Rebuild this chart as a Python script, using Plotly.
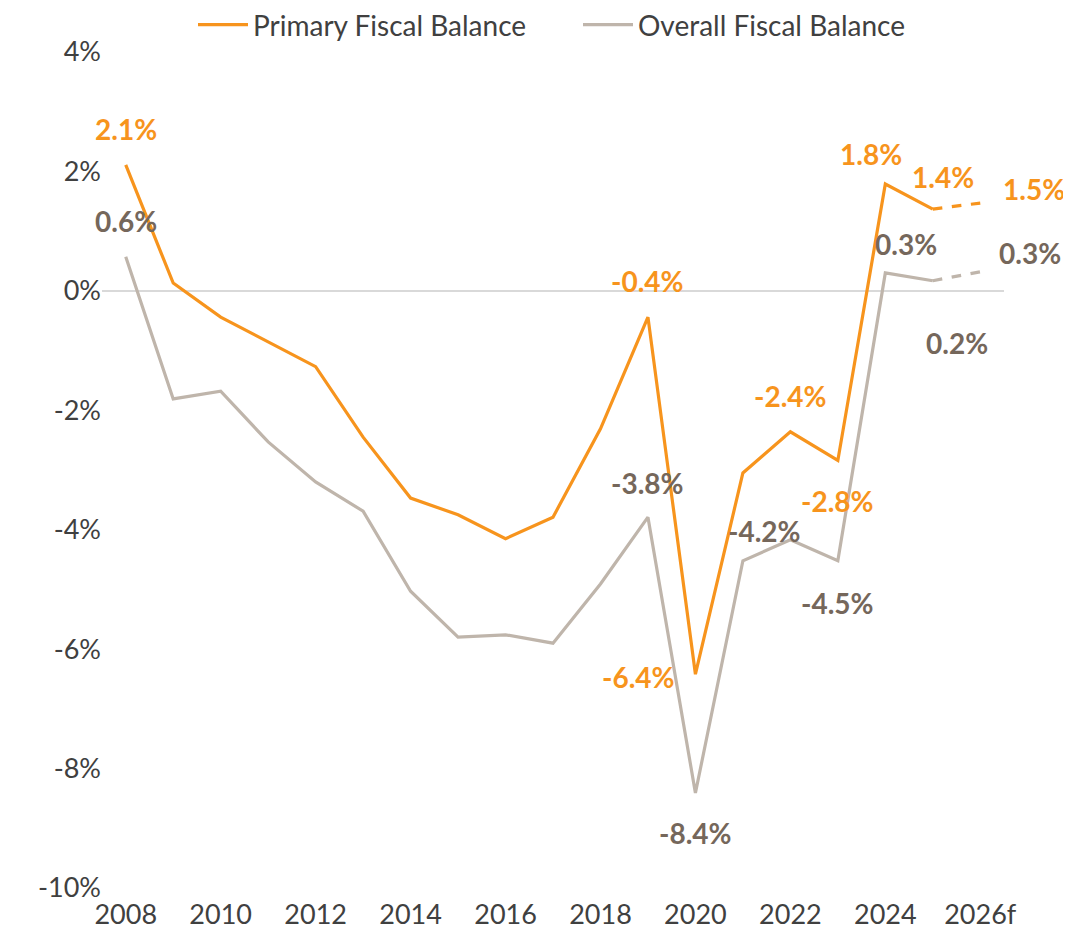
import plotly.graph_objects as go

years = [2008, 2009, 2010, 2011, 2012, 2013, 2014, 2015, 2016, 2017,
         2018, 2019, 2020, 2021, 2022, 2023, 2024, 2025, 2026]
primary = [2.11, 0.13, -0.44, -0.85, -1.27, -2.45, -3.47, -3.75, -4.15, -3.79,
           -2.31, -0.44, -6.42, -3.05, -2.36, -2.84, 1.79, 1.37, 1.47]
overall = [0.57, -1.81, -1.68, -2.53, -3.20, -3.69, -5.03, -5.80, -5.76, -5.90,
           -4.91, -3.79, -8.41, -4.52, -4.17, -4.52, 0.30, 0.17, 0.32]
forecast_start = 2025  # dashed from here on
x_tickvals = [2008, 2010, 2012, 2014, 2016, 2018, 2020, 2022, 2024, 2026]
x_ticktext = ["2008", "2010", "2012", "2014", "2016", "2018", "2020", "2022", "2024", "2026f"]
y_tickvals = [-10, -8, -6, -4, -2, 0, 2, 4]
y_ticktext = ["-10%", "-8%", "-6%", "-4%", "-2%", "0%", "2%", "4%"]

ORANGE = "#F7941D"
GRAY_LINE = "#BFB5AB"
GRAY_TEXT = "#75675B"
FONT = "Lato"

# label placement (pixel shifts) for labelled points
primary_labels = {2008: (0, 36), 2019: (0, 36), 2020: (-57, -3), 2022: (0, 36),
                  2023: (0, -41), 2024: (-14, 30), 2025: (10, 32), 2026: (54, 14)}
overall_labels = {2008: (0, 36), 2019: (0, 34), 2020: (0, -40), 2022: (-26, 9),
                  2023: (0, -42), 2024: (21, 29), 2025: (24, -62), 2026: (50, 19)}

split = years.index(forecast_start)

fig = go.Figure()
for name, vals, col in [("Primary Fiscal Balance", primary, ORANGE),
                        ("Overall Fiscal Balance", overall, GRAY_LINE)]:
    fig.add_trace(go.Scatter(x=years[:split + 1], y=vals[:split + 1], mode="lines",
                             name=name, line=dict(color=col, width=3.2)))
    fig.add_trace(go.Scatter(x=years[split:], y=vals[split:], mode="lines",
                             showlegend=False, hoverinfo="skip",
                             line=dict(color=col, width=3.2, dash="dash")))

for vals, labels, col in [(primary, primary_labels, ORANGE), (overall, overall_labels, GRAY_TEXT)]:
    for yr, (dx, dy) in labels.items():
        v = vals[years.index(yr)]
        fig.add_annotation(x=yr, y=v, text=f"{v:.1f}%", showarrow=False,
                           xshift=dx, yshift=dy,
                           font=dict(family=FONT, size=28, color=col, weight="bold"))

W, H = 1063, 933  # page body adds an 8px offset
fig.update_layout(
    width=W, height=H,
    margin=dict(l=94, r=W - 94 - 902, t=44, b=H - 44 - 836),
    plot_bgcolor="white", paper_bgcolor="white",
    font=dict(family=FONT, size=27, color="#404040"),
    legend=dict(orientation="h", xref="container", yref="container",
                x=185 / W, xanchor="left", y=1 - 17 / H, yanchor="middle",
                font=dict(family=FONT, size=28, color="#404040"),
                itemwidth=50, entrywidth=320, entrywidthmode="pixels",
                borderwidth=0, bgcolor="rgba(0,0,0,0)"),
    showlegend=True,
)
fig.update_xaxes(range=[2007.5, 2026.5], tickvals=x_tickvals, ticktext=x_ticktext,
                 showgrid=False, zeroline=False, showline=False, ticks="",
                 ticklabelstandoff=8, automargin=False)
fig.update_yaxes(range=[-10, 4], tickvals=y_tickvals, ticktext=y_ticktext,
                 showgrid=False, zeroline=True, zerolinecolor="#D9D9D9", zerolinewidth=1.5,
                 showline=False, ticks="", ticklabelstandoff=0, automargin=False)

fig.write_html("out.html")
